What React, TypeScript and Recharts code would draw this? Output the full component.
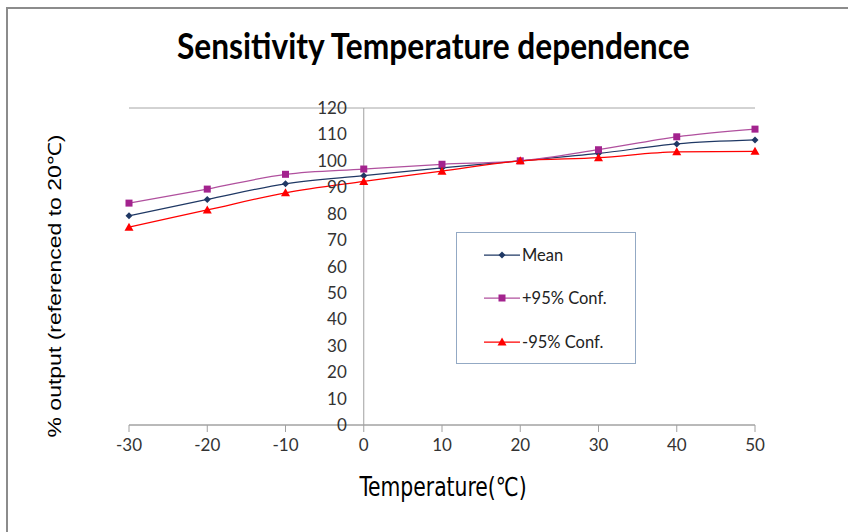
import React from 'react';
import {
  LineChart,
  Line,
  XAxis,
  YAxis,
  CartesianGrid,
  ReferenceLine,
  ReferenceDot,
  Legend,
} from 'recharts';

const temperatures = [-30, -20, -10, 0, 10, 20, 30, 40, 50];
const meanValues = [79.2, 85.4, 91.3, 94.4, 97.3, 100, 102.8, 106.4, 107.9];
const upperValues = [84.0, 89.3, 94.9, 96.9, 98.7, 100, 104.2, 109.1, 112.0];
const lowerValues = [74.9, 81.4, 87.9, 92.2, 96.1, 100, 101.2, 103.4, 103.6];
const xTicks = [-30, -20, -10, 0, 10, 20, 30, 40, 50];
const yTicks = [0, 10, 20, 30, 40, 50, 60, 70, 80, 90, 100, 110, 120];

const seriesNames = ['Mean', '+95% Conf.', '-95% Conf.'];
const titleText = 'Sensitivity Temperature dependence';
const xTitle = 'Temperature(℃)';
const yTitle = '% output (referenced to 20℃)';

const data = temperatures.map((t, i) => ({
  t,
  mean: meanValues[i],
  upper: upperValues[i],
  lower: lowerValues[i],
}));

const MEAN_COLOR = '#1F3864';
const UPPER_COLOR = '#A3238E';
const UPPER_LINE = '#B0509E';
const LOWER_COLOR = '#FF0000';

const Diamond = (p: any) => {
  const { cx, cy, fill } = p;
  if (cx == null || cy == null) return null;
  return <polygon points={`${cx},${cy - 3.5} ${cx + 3.5},${cy} ${cx},${cy + 3.5} ${cx - 3.5},${cy}`} fill={fill} />;
};
const Square = (p: any) => {
  const { cx, cy, fill } = p;
  if (cx == null || cy == null) return null;
  return <rect x={cx - 3.5} y={cy - 3.5} width={7} height={7} fill={fill} />;
};
const Triangle = (p: any) => {
  const { cx, cy, fill } = p;
  if (cx == null || cy == null) return null;
  return <polygon points={`${cx},${cy - 4.5} ${cx + 4.5},${cy + 3.5} ${cx - 4.5},${cy + 3.5}`} fill={fill} />;
};

const markerFor = [Diamond, Square, Triangle];
const colorFor = [MEAN_COLOR, UPPER_COLOR, LOWER_COLOR];
const lineColorFor = [MEAN_COLOR, UPPER_LINE, LOWER_COLOR];

const LegendBox = () => (
  <div
    style={{
      width: 180,
      height: 132,
      boxSizing: 'border-box',
      border: '1px solid #93A9C4',
      background: '#fff',
      paddingTop: 0,
      fontFamily: 'Lato, sans-serif',
      fontSize: 16.5,
      color: '#222',
    }}
  >
    {seriesNames.map((name, i) => {
      const M = markerFor[i];
      return (
        <div key={name} style={{ height: 43.5, display: 'flex', alignItems: 'center', paddingLeft: 27 }}>
          <svg width={36} height={12} style={{ display: 'block' }}>
            <line x1={0} y1={6} x2={36} y2={6} stroke={lineColorFor[i]} strokeWidth={1.25} />
            <M cx={18} cy={6} fill={colorFor[i]} />
          </svg>
          <span style={{ marginLeft: 2 }}>{name}</span>
        </div>
      );
    })}
  </div>
);

export default function App() {
  return (
    <div style={{ position: 'absolute', left: 0, top: 0, width: 848, height: 532, background: '#fff' }}>
      <div
        style={{
          position: 'absolute',
          left: 6,
          top: 7,
          width: 842,
          height: 525,
          borderLeft: '2px solid #8c8c8c',
          borderTop: '2px solid #8c8c8c',
        }}
      />
      <div
        style={{
          position: 'absolute',
          left: 0,
          top: 24,
          width: 866,
          textAlign: 'center',
          fontFamily: 'Lato, sans-serif',
          fontWeight: 700,
          fontSize: 36,
          lineHeight: '42px',
          color: '#000',
        }}
      >
        <span style={{ display: 'inline-block', transform: 'scaleX(0.88)' }}>{titleText}</span>
      </div>
      <div
        style={{
          position: 'absolute',
          left: 55 - 200,
          top: 286 - 15,
          width: 400,
          height: 30,
          lineHeight: '30px',
          textAlign: 'center',
          fontFamily: '"Liberation Sans", Arial, sans-serif',
          fontSize: 23,
          color: '#000',
          transform: 'scaleX(0.79) rotate(-90deg)',
        }}
      >
        {yTitle}
      </div>
      <div
        style={{
          position: 'absolute',
          left: 443 - 150,
          top: 487 - 17,
          width: 300,
          height: 34,
          lineHeight: '34px',
          textAlign: 'center',
          fontFamily: '"Liberation Sans Narrow", "DejaVu Sans Condensed", sans-serif',
          fontSize: 26,
          color: '#000',
          transform: 'scaleX(0.87)',
        }}
      >
        {xTitle}
      </div>
      <div style={{ position: 'absolute', left: 0, top: 0 }}>
        <LineChart
          width={848}
          height={532}
          data={data}
          margin={{ top: 108, right: 93, left: 129, bottom: 67 }}
        >
          <CartesianGrid vertical={false} stroke="#A6A6A6" strokeWidth={1} />
          <XAxis
            dataKey="t"
            type="number"
            domain={[-30, 50]}
            ticks={xTicks}
            height={40}
            axisLine={{ stroke: '#A0A0A0' }}
            tickLine={{ stroke: '#A0A0A0' }}
            tickSize={7}
            tickMargin={7}
            interval={0}
            tick={{ fill: '#333', fontSize: 17, fontFamily: 'Lato, sans-serif' }}
          />
          <YAxis
            type="number"
            domain={[0, 120]}
            ticks={yTicks}
            width={0}
            axisLine={false}
            tickLine={false}
            tick={false}
          />
          <ReferenceLine x={0} stroke="#A0A0A0" />
          {yTicks.map((v) => (
            <ReferenceDot
              key={v}
              x={0}
              y={v}
              r={0}
              fill="none"
              stroke="none"
              label={{
                value: String(v),
                position: 'left',
                offset: 17,
                fill: '#333',
                fontSize: 17,
                fontFamily: 'Lato, sans-serif',
              }}
            />
          ))}
          <Legend
            layout="horizontal"
            verticalAlign="middle"
            align="center"
            wrapperStyle={{ left: 456, top: 232, width: 180, height: 132 }}
            content={() => <LegendBox />}
          />
          <Line
            type="monotone"
            dataKey="mean"
            name={seriesNames[0]}
            stroke={MEAN_COLOR}
            strokeWidth={1.25}
            isAnimationActive={false}
            dot={(p: any) => <Diamond key={`m${p.index}`} cx={p.cx} cy={p.cy} fill={MEAN_COLOR} />}
            activeDot={false}
          />
          <Line
            type="monotone"
            dataKey="upper"
            name={seriesNames[1]}
            stroke={UPPER_LINE}
            strokeWidth={1.25}
            isAnimationActive={false}
            dot={(p: any) => <Square key={`u${p.index}`} cx={p.cx} cy={p.cy} fill={UPPER_COLOR} />}
            activeDot={false}
          />
          <Line
            type="monotone"
            dataKey="lower"
            name={seriesNames[2]}
            stroke={LOWER_COLOR}
            strokeWidth={1.25}
            isAnimationActive={false}
            dot={(p: any) => <Triangle key={`l${p.index}`} cx={p.cx} cy={p.cy} fill={LOWER_COLOR} />}
            activeDot={false}
          />
        </LineChart>
      </div>
    </div>
  );
}
